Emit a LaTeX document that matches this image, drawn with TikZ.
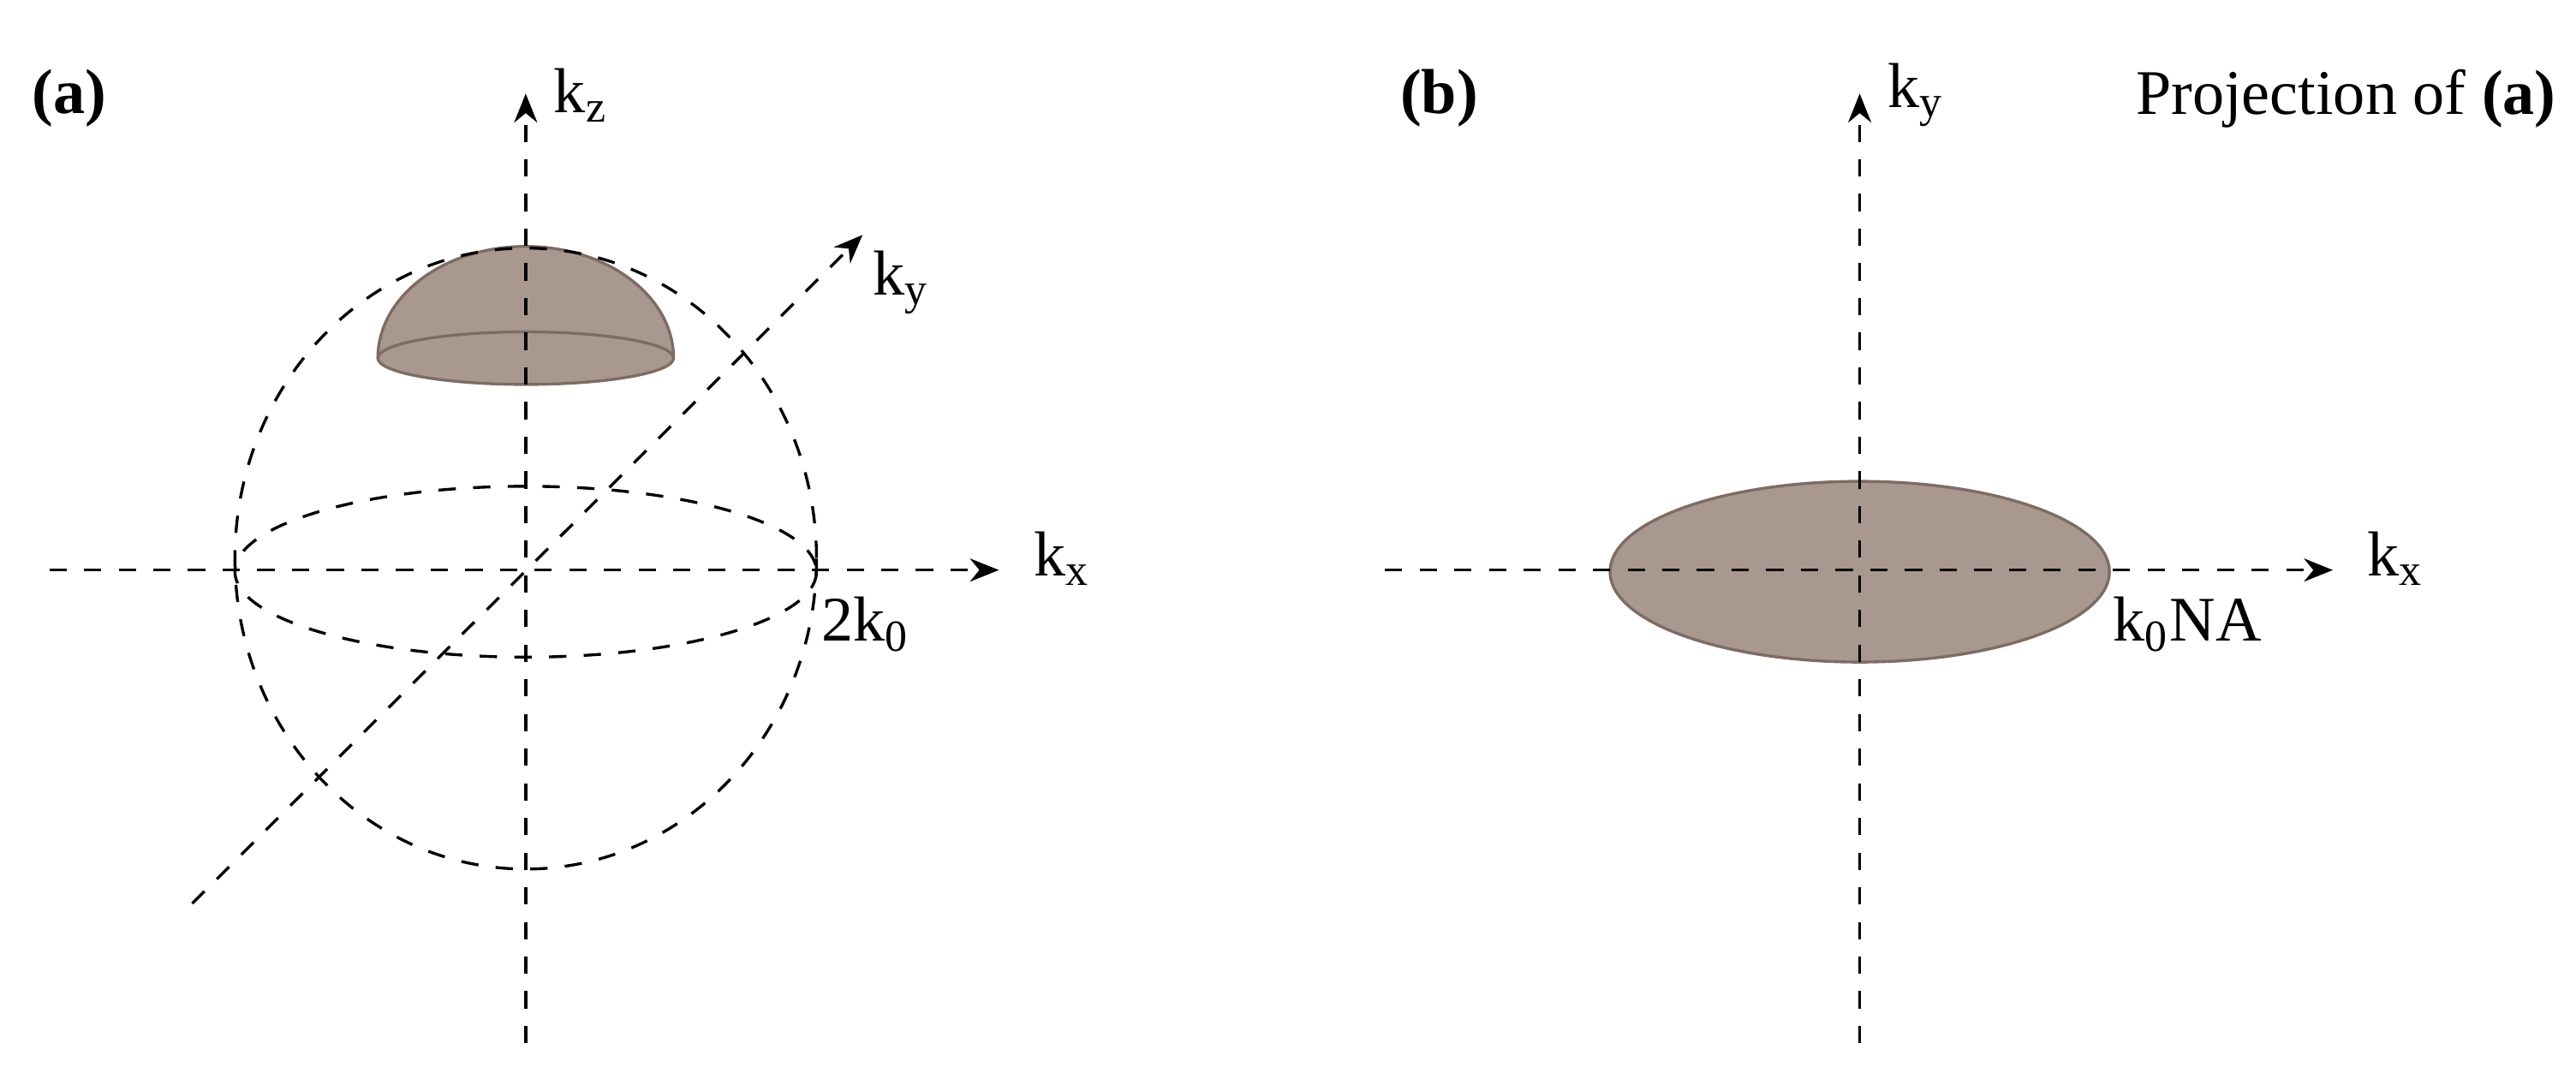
\documentclass[tikz,border=0pt]{standalone}
\usepackage{fontspec}
\setmainfont{Liberation Serif}
\usetikzlibrary{arrows.meta}
\definecolor{capfill}{HTML}{A89890}
\definecolor{capline}{HTML}{7E6C64}
\begin{document}
\begin{tikzpicture}[x=0.01cm,y=-0.01cm,
  ax/.style={dashed,line width=0.5pt,-{Stealth[length=5pt,width=4pt]}},
  dsh/.style={dashed,line width=0.5pt},
  lbl/.style={font=\fontsize{11}{13}\selectfont,inner sep=1pt},
  capshape/.style={fill=capfill,draw=capline,line width=0.5pt}]
\useasboundingbox (0,0) rectangle (1568,660);
% panel (a)
\draw[capshape] (230,218) arc[start angle=180,end angle=360,x radius=90,y radius=68];
\draw[capshape] (320,218) ellipse[x radius=90,y radius=16];
\draw[dsh] (320,340) ellipse[x radius=177,y radius=189];
\draw[dsh] (320,348) ellipse[x radius=177,y radius=52];
\coordinate (kzs) at (320,635); \coordinate (kze) at (320,57);
\coordinate (kxs) at (30,347); \coordinate (kxe) at (608,347);
\coordinate (kys) at (117,550); \coordinate (kye) at (525,143);
\draw[ax] (kzs) -- (kze);
\draw[ax] (kxs) -- (kxe);
\draw[ax] (kys) -- (kye);
\node[lbl,font=\fontsize{11}{13}\selectfont\bfseries] (la) at (42,60) {(a)};
\node[lbl,anchor=west] (kz) at (333,58) {k\textsubscript{z}};
\node[lbl,anchor=west] (ky) at (527,172) {k\textsubscript{y}};
\node[lbl,anchor=west] (kx) at (625,340) {k\textsubscript{x}};
\node[lbl,anchor=west] (tk) at (496,380) {2k\textsubscript{0}};
% panel (b)
\draw[capshape] (1132,348) ellipse[x radius=152,y radius=55];
\coordinate (bys) at (1132,635); \coordinate (bye) at (1132,57);
\coordinate (bxs) at (843,347); \coordinate (bxe) at (1420,347);
\draw[ax] (bys) -- (bye);
\draw[ax] (bxs) -- (bxe);
\node[lbl,font=\fontsize{11}{13}\selectfont\bfseries] (lb) at (876,60) {(b)};
\node[lbl,anchor=west] (bky) at (1145,58) {k\textsubscript{y}};
\node[lbl,anchor=west] (bkx) at (1437,340) {k\textsubscript{x}};
\node[lbl,anchor=west] (kna) at (1282,380) {k\textsubscript{0}NA};
\node[lbl,anchor=east] (proj) at (1560,60) {Projection of \textbf{(a)}};
\end{tikzpicture}
\end{document}
